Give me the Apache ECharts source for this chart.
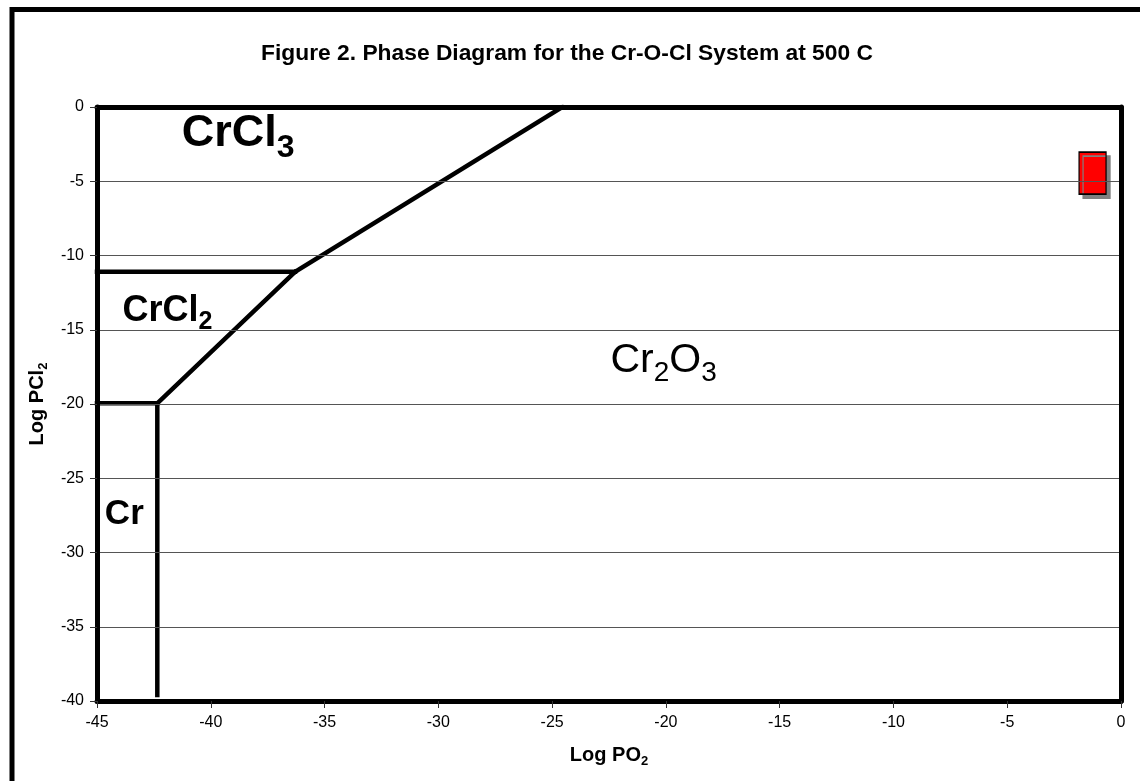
<!DOCTYPE html>
<html>
<head>
<meta charset="utf-8">
<script src="https://cdn.jsdelivr.net/npm/echarts@6/dist/echarts.min.js"></script>
<style>
html,body{margin:0;padding:0;background:#fff;}
#chart{width:1140px;height:781px;}
</style>
</head>
<body>
<div id="chart"></div>
<script>
// ---- data (log units) ----
const xTicks = [-45, -40, -35, -30, -25, -20, -15, -10, -5, 0];
const yTicks = [0, -5, -10, -15, -20, -25, -30, -35, -40];
const boundaryCrCl3_Cr2O3 = [[-36.3, -11.1], [-24.55, 0]];
const boundaryCrCl3_CrCl2 = [[-45, -11.1], [-36.3, -11.1]];
const boundaryCrCl2_Cr2O3 = [[-42.35, -19.95], [-36.3, -11.1]];
const boundaryCr_CrCl2 = [[-45, -19.95], [-42.35, -19.95]];
const boundaryCr_Cr2O3 = [[-42.35, -19.95], [-42.35, -39.6]];
const conditionPoint = [[-1.25, -4.45]];
const phaseNames = ['CrCl3', 'CrCl2', 'Cr', 'Cr2O3'];
const phaseAnchors = [[-38.8, -1.8], [-41.9, -13.75], [-43.8, -27.45], [-20.1, -17.1]];

const richStyles = {
  CrCl3: {fmt: '{m|CrCl}{s|3}', m: {fontSize: 45, fontWeight: 'bold', lineHeight: 61}, s: {fontSize: 32, fontWeight: 'bold', verticalAlign: 'bottom'}},
  CrCl2: {fmt: '{m|CrCl}{s|2}', m: {fontSize: 36, fontWeight: 'bold', lineHeight: 47}, s: {fontSize: 25, fontWeight: 'bold', verticalAlign: 'bottom'}},
  Cr: {fmt: '{m|Cr}', m: {fontSize: 35, fontWeight: 'bold', lineHeight: 35}, s: {}},
  Cr2O3: {fmt: '{m|Cr}{s|2}{m|O}{s|3}', m: {fontSize: 41, fontWeight: 'normal', lineHeight: 52}, s: {fontSize: 28, fontWeight: 'normal', verticalAlign: 'bottom'}}
};

const FONT = '"Liberation Sans", Arial, Helvetica, sans-serif';
const FRAME = {show: true, onZero: false, lineStyle: {color: '#000', width: 5}};

function boundary(data) {
  return {
    type: 'line', data: data, symbol: 'none', silent: true, animation: false,
    lineStyle: {color: '#000', width: 4.5, cap: 'square'}, z: 3
  };
}

const labelData = phaseNames.map((n, i) => {
  const r = richStyles[n];
  const rich = {
    m: Object.assign({color: '#000', fontFamily: FONT}, r.m),
    s: Object.assign({color: '#000', fontFamily: FONT}, r.s)
  };
  return {
    name: n, value: phaseAnchors[i],
    label: {show: true, position: 'inside', formatter: r.fmt, rich: rich, color: '#000'}
  };
});

const axisNameRich = {
  m: {fontSize: 20, fontWeight: 'bold', color: '#000', fontFamily: FONT, lineHeight: 25},
  s: {fontSize: 13, fontWeight: 'bold', color: '#000', fontFamily: FONT, verticalAlign: 'bottom'}
};

const chart = echarts.init(document.getElementById('chart'), null, {renderer: 'canvas'});
chart.setOption({
  animation: false,
  backgroundColor: '#fff',
  textStyle: {fontFamily: FONT},
  title: {
    text: 'Figure 2. Phase Diagram for the Cr-O-Cl System at 500 C',
    left: 562, top: 37, textAlign: 'center',
    textStyle: {fontFamily: FONT, fontSize: 22.8, fontWeight: 'bold', color: '#000'}
  },
  graphic: [{
    type: 'rect', shape: {x: 12, y: 9.5, width: 1300, height: 900},
    style: {fill: 'none', stroke: '#000', lineWidth: 5}, silent: true, z: 100
  }],
  grid: {
    left: 97, right: 19, top: 107, bottom: 80, containLabel: false, outerBoundsMode: 'none'
  },
  xAxis: [{
    type: 'value', min: xTicks[0], max: xTicks[xTicks.length - 1], interval: 5,
    axisLine: FRAME, z: 10,
    axisTick: {show: true, length: 7, inside: false, lineStyle: {color: '#333', width: 1}},
    splitLine: {show: false},
    axisLabel: {color: '#000', fontSize: 16, margin: 14, fontFamily: FONT},
    name: '{m|Log PO}{s|2}', nameLocation: 'middle', nameGap: 42,
    nameTextStyle: {rich: axisNameRich}
  }, {
    type: 'value', position: 'top', min: xTicks[0], max: xTicks[xTicks.length - 1], interval: 5,
    axisLine: FRAME, axisTick: {show: false}, axisLabel: {show: false}, splitLine: {show: false}, z: 10
  }],
  yAxis: [{
    type: 'value', min: yTicks[yTicks.length - 1], max: yTicks[0], interval: 5,
    axisLine: FRAME, z: 10,
    axisTick: {show: true, length: 7, inside: false, lineStyle: {color: '#333', width: 1}},
    splitLine: {show: true, lineStyle: {color: '#555', width: 1}},
    axisLabel: {color: '#000', fontSize: 16, margin: 13, fontFamily: FONT},
    name: '{m|Log PCl}{s|2}', nameLocation: 'middle', nameGap: 47, nameRotate: 90,
    nameTextStyle: {rich: axisNameRich}
  }, {
    type: 'value', position: 'right', min: yTicks[yTicks.length - 1], max: yTicks[0], interval: 5,
    axisLine: FRAME, axisTick: {show: false}, axisLabel: {show: false}, splitLine: {show: false}, z: 10
  }],
  series: [
    boundary(boundaryCrCl3_Cr2O3),
    boundary(boundaryCrCl3_CrCl2),
    boundary(boundaryCrCl2_Cr2O3),
    boundary(boundaryCr_CrCl2),
    boundary(boundaryCr_Cr2O3),
    {
      type: 'scatter', data: conditionPoint, symbol: 'rect', symbolSize: [27, 42],
      silent: true, z: 4,
      itemStyle: {color: '#ff0000', borderColor: '#000', borderWidth: 1.5, opacity: 1,
        shadowColor: '#808080', shadowBlur: 0, shadowOffsetX: 4, shadowOffsetY: 4}
    },
    {
      type: 'scatter', data: labelData, symbolSize: 1, silent: true, z: 5,
      itemStyle: {color: 'rgba(0,0,0,0)', opacity: 1}
    }
  ]
});
</script>
</body>
</html>
